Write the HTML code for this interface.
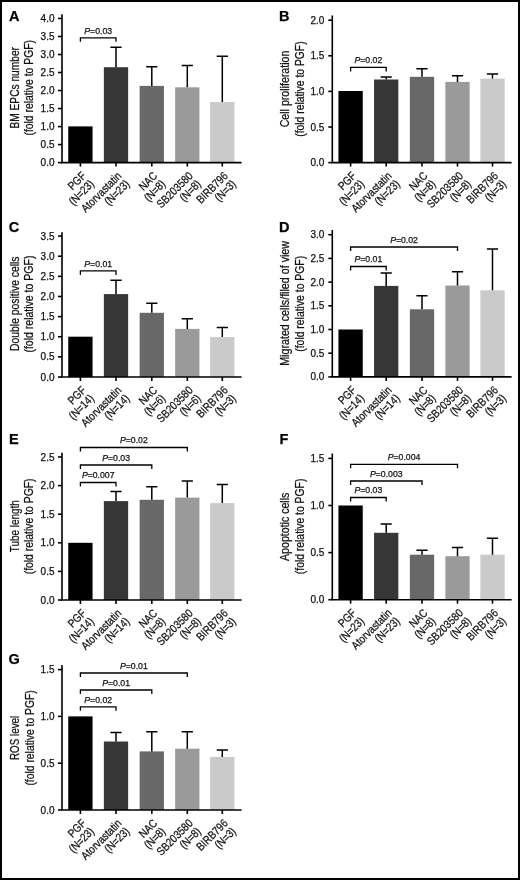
<!DOCTYPE html>
<html><head><meta charset="utf-8"><style>
html,body{margin:0;padding:0;background:#fff;}
body{width:520px;height:880px;overflow:hidden;}
svg{display:block;filter:grayscale(1);}
text{font-family:"Liberation Sans",sans-serif;fill:#111;stroke:#111;stroke-width:0.25px;}
.L{font-size:14.5px;font-weight:bold;fill:#000;}
.tk{font-size:10.0px;text-anchor:end;}
.p{font-size:8.7px;text-anchor:middle;}
.t{font-size:12.3px;text-anchor:middle;}
.x{font-size:11.5px;text-anchor:end;}
.a{stroke:#000;stroke-width:1.6;fill:none;}
.e{stroke:#000;stroke-width:1.5;fill:none;}
.b{stroke:#000;stroke-width:1.3;fill:none;}
</style></head><body>
<svg width="520" height="880" viewBox="0 0 520 880">
<rect x="0" y="0" width="520" height="880" fill="#fff"/>
<text x="9.1" y="21" class="L">A</text>
<rect x="68.25" y="126.4" width="24.3" height="36.2" fill="#000000"/>
<rect x="103.85" y="67.2" width="24.3" height="95.4" fill="#363636"/>
<path d="M116 67.2V47.3M110.4 47.3H121.6" class="e"/>
<rect x="139.65" y="85.9" width="24.3" height="76.7" fill="#686868"/>
<path d="M151.8 85.9V66.7M146.2 66.7H157.4" class="e"/>
<rect x="175.15" y="87.3" width="24.3" height="75.3" fill="#9a9a9a"/>
<path d="M187.3 87.3V65.6M181.7 65.6H192.9" class="e"/>
<rect x="210.15" y="102" width="24.3" height="60.6" fill="#cacaca"/>
<path d="M222.3 102V56.3M216.7 56.3H227.9" class="e"/>
<path d="M62 14.3V162.6H241.6" class="a"/>
<path d="M58 162.6H62" class="a"/>
<text x="54.5" y="166.1" class="tk">0.0</text>
<path d="M58 144.58H62" class="a"/>
<text x="54.5" y="148.08" class="tk">0.5</text>
<path d="M58 126.57H62" class="a"/>
<text x="54.5" y="130.07" class="tk">1.0</text>
<path d="M58 108.55H62" class="a"/>
<text x="54.5" y="112.05" class="tk">1.5</text>
<path d="M58 90.54H62" class="a"/>
<text x="54.5" y="94.04" class="tk">2.0</text>
<path d="M58 72.52H62" class="a"/>
<text x="54.5" y="76.02" class="tk">2.5</text>
<path d="M58 54.51H62" class="a"/>
<text x="54.5" y="58.01" class="tk">3.0</text>
<path d="M58 36.49H62" class="a"/>
<text x="54.5" y="39.99" class="tk">3.5</text>
<path d="M58 18.48H62" class="a"/>
<text x="54.5" y="21.98" class="tk">4.0</text>
<path d="M80.4 162.6V166.6" class="a"/>
<path d="M116 162.6V166.6" class="a"/>
<path d="M151.8 162.6V166.6" class="a"/>
<path d="M187.3 162.6V166.6" class="a"/>
<path d="M222.3 162.6V166.6" class="a"/>
<path d="M80.4 41.8V37.8H116V41.8" class="b"/>
<text x="98.2" y="33.7" class="p"><tspan font-style="italic">P</tspan>=0.03</text>
<text transform="translate(19.1 87.8) rotate(-90) scale(0.8288 1)" class="t">BM EPCs number</text>
<text transform="translate(33.4 87.8) rotate(-90) scale(0.8426 1)" class="t">(fold relative to PGF)</text>
<g transform="translate(80.4 162.6) rotate(-45) translate(-5.5 0) scale(0.85 1)"><text x="0" y="14.3" class="x">PGF</text><text x="0" y="25.8" class="x">(N=23)</text></g>
<g transform="translate(116 162.6) rotate(-45) translate(-5.5 0) scale(0.85 1)"><text x="0" y="14.3" class="x">Atorvastatin</text><text x="0" y="25.8" class="x">(N=23)</text></g>
<g transform="translate(151.8 162.6) rotate(-45) translate(-5.5 0) scale(0.85 1)"><text x="0" y="14.3" class="x">NAC</text><text x="0" y="25.8" class="x">(N=8)</text></g>
<g transform="translate(187.3 162.6) rotate(-45) translate(-5.5 0) scale(0.85 1)"><text x="0" y="14.3" class="x">SB203580</text><text x="0" y="25.8" class="x">(N=8)</text></g>
<g transform="translate(222.3 162.6) rotate(-45) translate(-5.5 0) scale(0.85 1)"><text x="0" y="14.3" class="x">BIRB796</text><text x="0" y="25.8" class="x">(N=3)</text></g>
<text x="279" y="20.9" class="L">B</text>
<rect x="338.45" y="91" width="24.3" height="71.6" fill="#000000"/>
<rect x="374.05" y="79.5" width="24.3" height="83.1" fill="#363636"/>
<path d="M386.2 79.5V76.9M380.6 76.9H391.8" class="e"/>
<rect x="409.85" y="76.8" width="24.3" height="85.8" fill="#686868"/>
<path d="M422 76.8V68.8M416.4 68.8H427.6" class="e"/>
<rect x="445.35" y="81.9" width="24.3" height="80.7" fill="#9a9a9a"/>
<path d="M457.5 81.9V75.7M451.9 75.7H463.1" class="e"/>
<rect x="480.35" y="78.6" width="24.3" height="84" fill="#cacaca"/>
<path d="M492.5 78.6V73.9M486.9 73.9H498.1" class="e"/>
<path d="M332.3 15.4V162.6H511.6" class="a"/>
<path d="M328.3 162.6H332.3" class="a"/>
<text x="324.3" y="166.1" class="tk">0.0</text>
<path d="M328.3 127H332.3" class="a"/>
<text x="324.3" y="130.5" class="tk">0.5</text>
<path d="M328.3 91.4H332.3" class="a"/>
<text x="324.3" y="94.9" class="tk">1.0</text>
<path d="M328.3 55.8H332.3" class="a"/>
<text x="324.3" y="59.3" class="tk">1.5</text>
<path d="M328.3 20.2H332.3" class="a"/>
<text x="324.3" y="23.7" class="tk">2.0</text>
<path d="M350.6 162.6V166.6" class="a"/>
<path d="M386.2 162.6V166.6" class="a"/>
<path d="M422 162.6V166.6" class="a"/>
<path d="M457.5 162.6V166.6" class="a"/>
<path d="M492.5 162.6V166.6" class="a"/>
<path d="M350.6 71.4V67.4H386.2V71.4" class="b"/>
<text x="368.4" y="63.3" class="p"><tspan font-style="italic">P</tspan>=0.02</text>
<text transform="translate(289.1 89) rotate(-90) scale(0.8643 1)" class="t">Cell proliferation</text>
<text transform="translate(303.7 89.1) rotate(-90) scale(0.8408 1)" class="t">(fold relative to PGF)</text>
<g transform="translate(350.6 162.6) rotate(-45) translate(-5.5 0) scale(0.85 1)"><text x="0" y="14.3" class="x">PGF</text><text x="0" y="25.8" class="x">(N=23)</text></g>
<g transform="translate(386.2 162.6) rotate(-45) translate(-5.5 0) scale(0.85 1)"><text x="0" y="14.3" class="x">Atorvastatin</text><text x="0" y="25.8" class="x">(N=23)</text></g>
<g transform="translate(422 162.6) rotate(-45) translate(-5.5 0) scale(0.85 1)"><text x="0" y="14.3" class="x">NAC</text><text x="0" y="25.8" class="x">(N=8)</text></g>
<g transform="translate(457.5 162.6) rotate(-45) translate(-5.5 0) scale(0.85 1)"><text x="0" y="14.3" class="x">SB203580</text><text x="0" y="25.8" class="x">(N=8)</text></g>
<g transform="translate(492.5 162.6) rotate(-45) translate(-5.5 0) scale(0.85 1)"><text x="0" y="14.3" class="x">BIRB796</text><text x="0" y="25.8" class="x">(N=3)</text></g>
<text x="8.8" y="231.6" class="L">C</text>
<rect x="68.25" y="336.7" width="24.3" height="40.3" fill="#000000"/>
<rect x="103.85" y="294.1" width="24.3" height="82.9" fill="#363636"/>
<path d="M116 294.1V280.3M110.4 280.3H121.6" class="e"/>
<rect x="139.65" y="312.8" width="24.3" height="64.2" fill="#686868"/>
<path d="M151.8 312.8V303.3M146.2 303.3H157.4" class="e"/>
<rect x="175.15" y="328.9" width="24.3" height="48.1" fill="#9a9a9a"/>
<path d="M187.3 328.9V318.7M181.7 318.7H192.9" class="e"/>
<rect x="210.15" y="337" width="24.3" height="40" fill="#cacaca"/>
<path d="M222.3 337V327.5M216.7 327.5H227.9" class="e"/>
<path d="M62 232.2V377H241.6" class="a"/>
<path d="M58 377H62" class="a"/>
<text x="54.5" y="380.5" class="tk">0.0</text>
<path d="M58 356.87H62" class="a"/>
<text x="54.5" y="360.37" class="tk">0.5</text>
<path d="M58 336.74H62" class="a"/>
<text x="54.5" y="340.24" class="tk">1.0</text>
<path d="M58 316.61H62" class="a"/>
<text x="54.5" y="320.11" class="tk">1.5</text>
<path d="M58 296.48H62" class="a"/>
<text x="54.5" y="299.98" class="tk">2.0</text>
<path d="M58 276.35H62" class="a"/>
<text x="54.5" y="279.85" class="tk">2.5</text>
<path d="M58 256.22H62" class="a"/>
<text x="54.5" y="259.72" class="tk">3.0</text>
<path d="M58 236.09H62" class="a"/>
<text x="54.5" y="239.59" class="tk">3.5</text>
<path d="M80.4 377V381" class="a"/>
<path d="M116 377V381" class="a"/>
<path d="M151.8 377V381" class="a"/>
<path d="M187.3 377V381" class="a"/>
<path d="M222.3 377V381" class="a"/>
<path d="M80.4 274.9V270.9H116V274.9" class="b"/>
<text x="98.2" y="266.8" class="p"><tspan font-style="italic">P</tspan>=0.01</text>
<text transform="translate(19.1 303.7) rotate(-90) scale(0.8438 1)" class="t">Double positive cells</text>
<text transform="translate(33.4 304.1) rotate(-90) scale(0.8551 1)" class="t">(fold relative to PGF)</text>
<g transform="translate(80.4 377) rotate(-45) translate(-5.5 0) scale(0.85 1)"><text x="0" y="14.3" class="x">PGF</text><text x="0" y="25.8" class="x">(N=14)</text></g>
<g transform="translate(116 377) rotate(-45) translate(-5.5 0) scale(0.85 1)"><text x="0" y="14.3" class="x">Atorvastatin</text><text x="0" y="25.8" class="x">(N=14)</text></g>
<g transform="translate(151.8 377) rotate(-45) translate(-5.5 0) scale(0.85 1)"><text x="0" y="14.3" class="x">NAC</text><text x="0" y="25.8" class="x">(N=6)</text></g>
<g transform="translate(187.3 377) rotate(-45) translate(-5.5 0) scale(0.85 1)"><text x="0" y="14.3" class="x">SB203580</text><text x="0" y="25.8" class="x">(N=6)</text></g>
<g transform="translate(222.3 377) rotate(-45) translate(-5.5 0) scale(0.85 1)"><text x="0" y="14.3" class="x">BIRB796</text><text x="0" y="25.8" class="x">(N=3)</text></g>
<text x="279" y="231.7" class="L">D</text>
<rect x="338.45" y="329.5" width="24.3" height="47.4" fill="#000000"/>
<rect x="374.05" y="285.9" width="24.3" height="91" fill="#363636"/>
<path d="M386.2 285.9V273M380.6 273H391.8" class="e"/>
<rect x="409.85" y="309.3" width="24.3" height="67.6" fill="#686868"/>
<path d="M422 309.3V295.8M416.4 295.8H427.6" class="e"/>
<rect x="445.35" y="285.5" width="24.3" height="91.4" fill="#9a9a9a"/>
<path d="M457.5 285.5V271.8M451.9 271.8H463.1" class="e"/>
<rect x="480.35" y="290.3" width="24.3" height="86.6" fill="#cacaca"/>
<path d="M492.5 290.3V249M486.9 249H498.1" class="e"/>
<path d="M332.3 230.1V376.9H511.6" class="a"/>
<path d="M328.3 376.9H332.3" class="a"/>
<text x="324.3" y="380.4" class="tk">0.0</text>
<path d="M328.3 353.2H332.3" class="a"/>
<text x="324.3" y="356.7" class="tk">0.5</text>
<path d="M328.3 329.5H332.3" class="a"/>
<text x="324.3" y="333" class="tk">1.0</text>
<path d="M328.3 305.8H332.3" class="a"/>
<text x="324.3" y="309.3" class="tk">1.5</text>
<path d="M328.3 282.1H332.3" class="a"/>
<text x="324.3" y="285.6" class="tk">2.0</text>
<path d="M328.3 258.4H332.3" class="a"/>
<text x="324.3" y="261.9" class="tk">2.5</text>
<path d="M328.3 234.7H332.3" class="a"/>
<text x="324.3" y="238.2" class="tk">3.0</text>
<path d="M350.6 376.9V380.9" class="a"/>
<path d="M386.2 376.9V380.9" class="a"/>
<path d="M422 376.9V380.9" class="a"/>
<path d="M457.5 376.9V380.9" class="a"/>
<path d="M492.5 376.9V380.9" class="a"/>
<path d="M350.6 270.5V266.5H386.2V270.5" class="b"/>
<text x="368.4" y="262.4" class="p"><tspan font-style="italic">P</tspan>=0.01</text>
<path d="M350.6 251V247H457.5V251" class="b"/>
<text x="404.05" y="242.9" class="p"><tspan font-style="italic">P</tspan>=0.02</text>
<text transform="translate(289.3 303.4) rotate(-90) scale(0.8719 1)" class="t">Migrated cells/filed of view</text>
<text transform="translate(303.7 303.8) rotate(-90) scale(0.8462 1)" class="t">(fold relative to PGF)</text>
<g transform="translate(350.6 376.9) rotate(-45) translate(-5.5 0) scale(0.85 1)"><text x="0" y="14.3" class="x">PGF</text><text x="0" y="25.8" class="x">(N=14)</text></g>
<g transform="translate(386.2 376.9) rotate(-45) translate(-5.5 0) scale(0.85 1)"><text x="0" y="14.3" class="x">Atorvastatin</text><text x="0" y="25.8" class="x">(N=14)</text></g>
<g transform="translate(422 376.9) rotate(-45) translate(-5.5 0) scale(0.85 1)"><text x="0" y="14.3" class="x">NAC</text><text x="0" y="25.8" class="x">(N=8)</text></g>
<g transform="translate(457.5 376.9) rotate(-45) translate(-5.5 0) scale(0.85 1)"><text x="0" y="14.3" class="x">SB203580</text><text x="0" y="25.8" class="x">(N=8)</text></g>
<g transform="translate(492.5 376.9) rotate(-45) translate(-5.5 0) scale(0.85 1)"><text x="0" y="14.3" class="x">BIRB796</text><text x="0" y="25.8" class="x">(N=3)</text></g>
<text x="9" y="444.2" class="L">E</text>
<rect x="68.25" y="542.8" width="24.3" height="57.2" fill="#000000"/>
<rect x="103.85" y="501.1" width="24.3" height="98.9" fill="#363636"/>
<path d="M116 501.1V491.6M110.4 491.6H121.6" class="e"/>
<rect x="139.65" y="499.8" width="24.3" height="100.2" fill="#686868"/>
<path d="M151.8 499.8V486.8M146.2 486.8H157.4" class="e"/>
<rect x="175.15" y="497.6" width="24.3" height="102.4" fill="#9a9a9a"/>
<path d="M187.3 497.6V481.1M181.7 481.1H192.9" class="e"/>
<rect x="210.15" y="503.1" width="24.3" height="96.9" fill="#cacaca"/>
<path d="M222.3 503.1V484.6M216.7 484.6H227.9" class="e"/>
<path d="M62 452.7V600H241.6" class="a"/>
<path d="M58 600H62" class="a"/>
<text x="54.5" y="603.5" class="tk">0.0</text>
<path d="M58 571.4H62" class="a"/>
<text x="54.5" y="574.9" class="tk">0.5</text>
<path d="M58 542.8H62" class="a"/>
<text x="54.5" y="546.3" class="tk">1.0</text>
<path d="M58 514.2H62" class="a"/>
<text x="54.5" y="517.7" class="tk">1.5</text>
<path d="M58 485.6H62" class="a"/>
<text x="54.5" y="489.1" class="tk">2.0</text>
<path d="M58 457H62" class="a"/>
<text x="54.5" y="460.5" class="tk">2.5</text>
<path d="M80.4 600V604" class="a"/>
<path d="M116 600V604" class="a"/>
<path d="M151.8 600V604" class="a"/>
<path d="M187.3 600V604" class="a"/>
<path d="M222.3 600V604" class="a"/>
<path d="M80.4 486.5V482.5H116V486.5" class="b"/>
<text x="98.2" y="478.4" class="p"><tspan font-style="italic">P</tspan>=0.007</text>
<path d="M80.4 469V465H151.8V469" class="b"/>
<text x="116.1" y="460.9" class="p"><tspan font-style="italic">P</tspan>=0.03</text>
<path d="M80.4 451.5V447.5H187.3V451.5" class="b"/>
<text x="133.85" y="443.4" class="p"><tspan font-style="italic">P</tspan>=0.02</text>
<text transform="translate(19.1 526.2) rotate(-90) scale(0.8061 1)" class="t">Tube length</text>
<text transform="translate(33.4 526.4) rotate(-90) scale(0.8463 1)" class="t">(fold relative to PGF)</text>
<g transform="translate(80.4 600) rotate(-45) translate(-5.5 0) scale(0.85 1)"><text x="0" y="14.3" class="x">PGF</text><text x="0" y="25.8" class="x">(N=14)</text></g>
<g transform="translate(116 600) rotate(-45) translate(-5.5 0) scale(0.85 1)"><text x="0" y="14.3" class="x">Atorvastatin</text><text x="0" y="25.8" class="x">(N=14)</text></g>
<g transform="translate(151.8 600) rotate(-45) translate(-5.5 0) scale(0.85 1)"><text x="0" y="14.3" class="x">NAC</text><text x="0" y="25.8" class="x">(N=8)</text></g>
<g transform="translate(187.3 600) rotate(-45) translate(-5.5 0) scale(0.85 1)"><text x="0" y="14.3" class="x">SB203580</text><text x="0" y="25.8" class="x">(N=8)</text></g>
<g transform="translate(222.3 600) rotate(-45) translate(-5.5 0) scale(0.85 1)"><text x="0" y="14.3" class="x">BIRB796</text><text x="0" y="25.8" class="x">(N=3)</text></g>
<text x="279.6" y="444.2" class="L">F</text>
<rect x="338.45" y="505.5" width="24.3" height="94.2" fill="#000000"/>
<rect x="374.05" y="532.8" width="24.3" height="66.9" fill="#363636"/>
<path d="M386.2 532.8V524M380.6 524H391.8" class="e"/>
<rect x="409.85" y="554.7" width="24.3" height="45" fill="#686868"/>
<path d="M422 554.7V550.3M416.4 550.3H427.6" class="e"/>
<rect x="445.35" y="556.2" width="24.3" height="43.5" fill="#9a9a9a"/>
<path d="M457.5 556.2V547.4M451.9 547.4H463.1" class="e"/>
<rect x="480.35" y="554.7" width="24.3" height="45" fill="#cacaca"/>
<path d="M492.5 554.7V538.3M486.9 538.3H498.1" class="e"/>
<path d="M332.3 453.5V599.7H511.6" class="a"/>
<path d="M328.3 599.7H332.3" class="a"/>
<text x="324.3" y="603.2" class="tk">0.0</text>
<path d="M328.3 552.6H332.3" class="a"/>
<text x="324.3" y="556.1" class="tk">0.5</text>
<path d="M328.3 505.5H332.3" class="a"/>
<text x="324.3" y="509" class="tk">1.0</text>
<path d="M328.3 458.4H332.3" class="a"/>
<text x="324.3" y="461.9" class="tk">1.5</text>
<path d="M350.6 599.7V603.7" class="a"/>
<path d="M386.2 599.7V603.7" class="a"/>
<path d="M422 599.7V603.7" class="a"/>
<path d="M457.5 599.7V603.7" class="a"/>
<path d="M492.5 599.7V603.7" class="a"/>
<path d="M350.6 501.5V497.5H386.2V501.5" class="b"/>
<text x="368.4" y="493.4" class="p"><tspan font-style="italic">P</tspan>=0.03</text>
<path d="M350.6 485V481H422V485" class="b"/>
<text x="386.3" y="476.9" class="p"><tspan font-style="italic">P</tspan>=0.003</text>
<path d="M350.6 468.3V464.3H457.5V468.3" class="b"/>
<text x="404.05" y="460.2" class="p"><tspan font-style="italic">P</tspan>=0.004</text>
<text transform="translate(289.1 526.8) rotate(-90) scale(0.8622 1)" class="t">Apoptotic cells</text>
<text transform="translate(303.7 526.4) rotate(-90) scale(0.8426 1)" class="t">(fold relative to PGF)</text>
<g transform="translate(350.6 599.7) rotate(-45) translate(-5.5 0) scale(0.85 1)"><text x="0" y="14.3" class="x">PGF</text><text x="0" y="25.8" class="x">(N=23)</text></g>
<g transform="translate(386.2 599.7) rotate(-45) translate(-5.5 0) scale(0.85 1)"><text x="0" y="14.3" class="x">Atorvastatin</text><text x="0" y="25.8" class="x">(N=23)</text></g>
<g transform="translate(422 599.7) rotate(-45) translate(-5.5 0) scale(0.85 1)"><text x="0" y="14.3" class="x">NAC</text><text x="0" y="25.8" class="x">(N=8)</text></g>
<g transform="translate(457.5 599.7) rotate(-45) translate(-5.5 0) scale(0.85 1)"><text x="0" y="14.3" class="x">SB203580</text><text x="0" y="25.8" class="x">(N=8)</text></g>
<g transform="translate(492.5 599.7) rotate(-45) translate(-5.5 0) scale(0.85 1)"><text x="0" y="14.3" class="x">BIRB796</text><text x="0" y="25.8" class="x">(N=3)</text></g>
<text x="8.6" y="663.5" class="L">G</text>
<rect x="68.25" y="716.4" width="24.3" height="93.6" fill="#000000"/>
<rect x="103.85" y="741.5" width="24.3" height="68.5" fill="#363636"/>
<path d="M116 741.5V732.4M110.4 732.4H121.6" class="e"/>
<rect x="139.65" y="751.4" width="24.3" height="58.6" fill="#686868"/>
<path d="M151.8 751.4V731.7M146.2 731.7H157.4" class="e"/>
<rect x="175.15" y="748.7" width="24.3" height="61.3" fill="#9a9a9a"/>
<path d="M187.3 748.7V731.7M181.7 731.7H192.9" class="e"/>
<rect x="210.15" y="756.9" width="24.3" height="53.1" fill="#cacaca"/>
<path d="M222.3 756.9V750.1M216.7 750.1H227.9" class="e"/>
<path d="M62 665V810H241.6" class="a"/>
<path d="M58 810H62" class="a"/>
<text x="54.5" y="813.5" class="tk">0.0</text>
<path d="M58 763.2H62" class="a"/>
<text x="54.5" y="766.7" class="tk">0.5</text>
<path d="M58 716.4H62" class="a"/>
<text x="54.5" y="719.9" class="tk">1.0</text>
<path d="M58 669.6H62" class="a"/>
<text x="54.5" y="673.1" class="tk">1.5</text>
<path d="M80.4 810V814" class="a"/>
<path d="M116 810V814" class="a"/>
<path d="M151.8 810V814" class="a"/>
<path d="M187.3 810V814" class="a"/>
<path d="M222.3 810V814" class="a"/>
<path d="M80.4 710.8V706.8H116V710.8" class="b"/>
<text x="98.2" y="702.7" class="p"><tspan font-style="italic">P</tspan>=0.02</text>
<path d="M80.4 694V690H151.8V694" class="b"/>
<text x="116.1" y="685.9" class="p"><tspan font-style="italic">P</tspan>=0.01</text>
<path d="M80.4 677V673H187.3V677" class="b"/>
<text x="133.85" y="668.9" class="p"><tspan font-style="italic">P</tspan>=0.01</text>
<text transform="translate(19.1 737.9) rotate(-90) scale(0.7987 1)" class="t">ROS level</text>
<text transform="translate(33.6 737.9) rotate(-90) scale(0.8408 1)" class="t">(fold relative to PGF)</text>
<g transform="translate(80.4 810) rotate(-45) translate(-5.5 0) scale(0.85 1)"><text x="0" y="14.3" class="x">PGF</text><text x="0" y="25.8" class="x">(N=23)</text></g>
<g transform="translate(116 810) rotate(-45) translate(-5.5 0) scale(0.85 1)"><text x="0" y="14.3" class="x">Atorvastatin</text><text x="0" y="25.8" class="x">(N=23)</text></g>
<g transform="translate(151.8 810) rotate(-45) translate(-5.5 0) scale(0.85 1)"><text x="0" y="14.3" class="x">NAC</text><text x="0" y="25.8" class="x">(N=8)</text></g>
<g transform="translate(187.3 810) rotate(-45) translate(-5.5 0) scale(0.85 1)"><text x="0" y="14.3" class="x">SB203580</text><text x="0" y="25.8" class="x">(N=8)</text></g>
<g transform="translate(222.3 810) rotate(-45) translate(-5.5 0) scale(0.85 1)"><text x="0" y="14.3" class="x">BIRB796</text><text x="0" y="25.8" class="x">(N=3)</text></g>
<rect x="1" y="1" width="518" height="878" fill="none" stroke="#000" stroke-width="2"/>
</svg>
</body></html>
